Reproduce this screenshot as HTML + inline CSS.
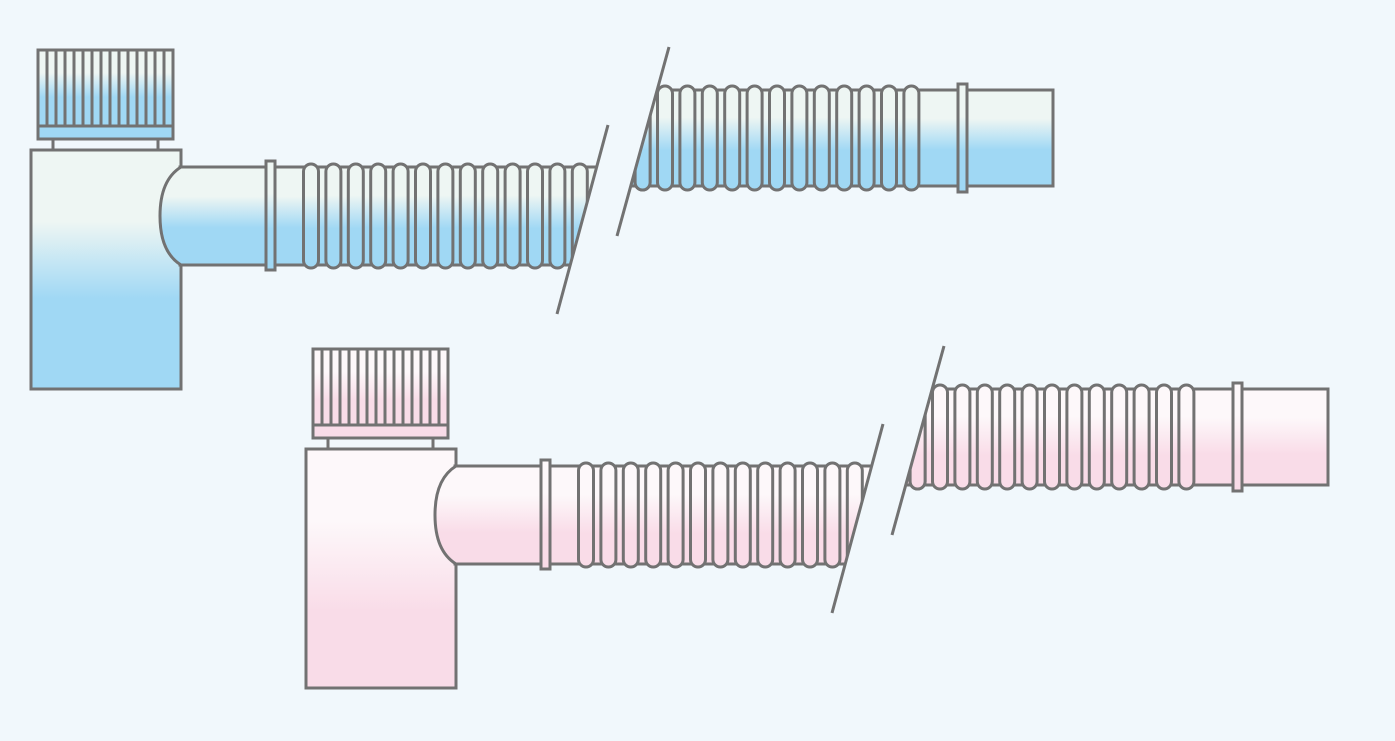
<!DOCTYPE html>
<html><head><meta charset="utf-8"><style>
html,body{margin:0;padding:0;background:#f1f8fc;}
svg{display:block}
</style></head><body>
<svg width="1395" height="741" viewBox="0 0 1395 741" xmlns="http://www.w3.org/2000/svg">
<defs>
<linearGradient id="gb" x1="0" y1="0" x2="0" y2="1">
<stop offset="0" stop-color="#eef6f3"/><stop offset="0.3" stop-color="#eef6f3"/><stop offset="0.62" stop-color="#a0d8f4"/><stop offset="1" stop-color="#a0d8f4"/></linearGradient>
<linearGradient id="gp" x1="0" y1="0" x2="0" y2="1">
<stop offset="0" stop-color="#fdf8fa"/><stop offset="0.3" stop-color="#fdf8fa"/><stop offset="0.68" stop-color="#f9dce8"/><stop offset="1" stop-color="#f9dce8"/></linearGradient>
<clipPath id="cl"><polygon points="0,0 641,0 557,314 0,314"/></clipPath>
<clipPath id="cr"><polygon points="682,0 1100,0 1100,300 599,300"/></clipPath>
<g id="rl">
<rect x="303.5" y="164" width="15" height="104" rx="7.5"/><rect x="325.9" y="164" width="15" height="104" rx="7.5"/><rect x="348.3" y="164" width="15" height="104" rx="7.5"/><rect x="370.7" y="164" width="15" height="104" rx="7.5"/><rect x="393.1" y="164" width="15" height="104" rx="7.5"/><rect x="415.5" y="164" width="15" height="104" rx="7.5"/><rect x="437.9" y="164" width="15" height="104" rx="7.5"/><rect x="460.3" y="164" width="15" height="104" rx="7.5"/><rect x="482.7" y="164" width="15" height="104" rx="7.5"/><rect x="505.1" y="164" width="15" height="104" rx="7.5"/><rect x="527.5" y="164" width="15" height="104" rx="7.5"/><rect x="549.9" y="164" width="15" height="104" rx="7.5"/><rect x="572.3" y="164" width="15" height="104" rx="7.5"/>
</g>
<g id="asm" stroke="#727272" stroke-width="3">
  <rect x="38" y="50" width="135" height="76"/>
  <g>
    <line x1="47" y1="50" x2="47" y2="126"/><line x1="56" y1="50" x2="56" y2="126"/><line x1="65" y1="50" x2="65" y2="126"/><line x1="74" y1="50" x2="74" y2="126"/><line x1="83" y1="50" x2="83" y2="126"/><line x1="92" y1="50" x2="92" y2="126"/><line x1="101" y1="50" x2="101" y2="126"/><line x1="110" y1="50" x2="110" y2="126"/><line x1="119" y1="50" x2="119" y2="126"/><line x1="128" y1="50" x2="128" y2="126"/><line x1="137" y1="50" x2="137" y2="126"/><line x1="146" y1="50" x2="146" y2="126"/><line x1="155" y1="50" x2="155" y2="126"/><line x1="164" y1="50" x2="164" y2="126"/>
  </g>
  <rect x="53" y="139" width="105" height="11" fill="#f1f8fc"/>
  <rect x="31" y="150" width="150" height="239"/>
  <g clip-path="url(#cl)">
    <rect x="180" y="167" width="470" height="98"/>
    <use href="#rl"/>
  </g>
  <path d="M181 167 H266 V265 H181 Q160 252 160 216 Q160 180 181 167 Z"/>
  <rect x="266" y="161" width="9" height="109"/>
  <g clip-path="url(#cr)">
    <rect x="590" y="90" width="370" height="96"/>
    <use href="#rl" transform="translate(331.6,-78)"/>
    <rect x="635.1" y="86" width="15" height="104" rx="7.5"/>
  </g>
  <rect x="967" y="90" width="86" height="96"/>
  <rect x="958" y="84" width="9" height="108"/>
  <line x1="557" y1="314" x2="608" y2="125" fill="none"/>
  <line x1="617" y1="236" x2="669" y2="47" fill="none"/>
</g>
</defs>
<use href="#asm" fill="url(#gb)"/>
<rect x="38" y="126" width="135" height="13" fill="#a0d8f4" stroke="#727272" stroke-width="3"/>
<use href="#asm" fill="url(#gp)" transform="translate(275,299)"/>
<rect x="313" y="425" width="135" height="13" fill="#f9dce8" stroke="#727272" stroke-width="3"/>
</svg>
</body></html>
